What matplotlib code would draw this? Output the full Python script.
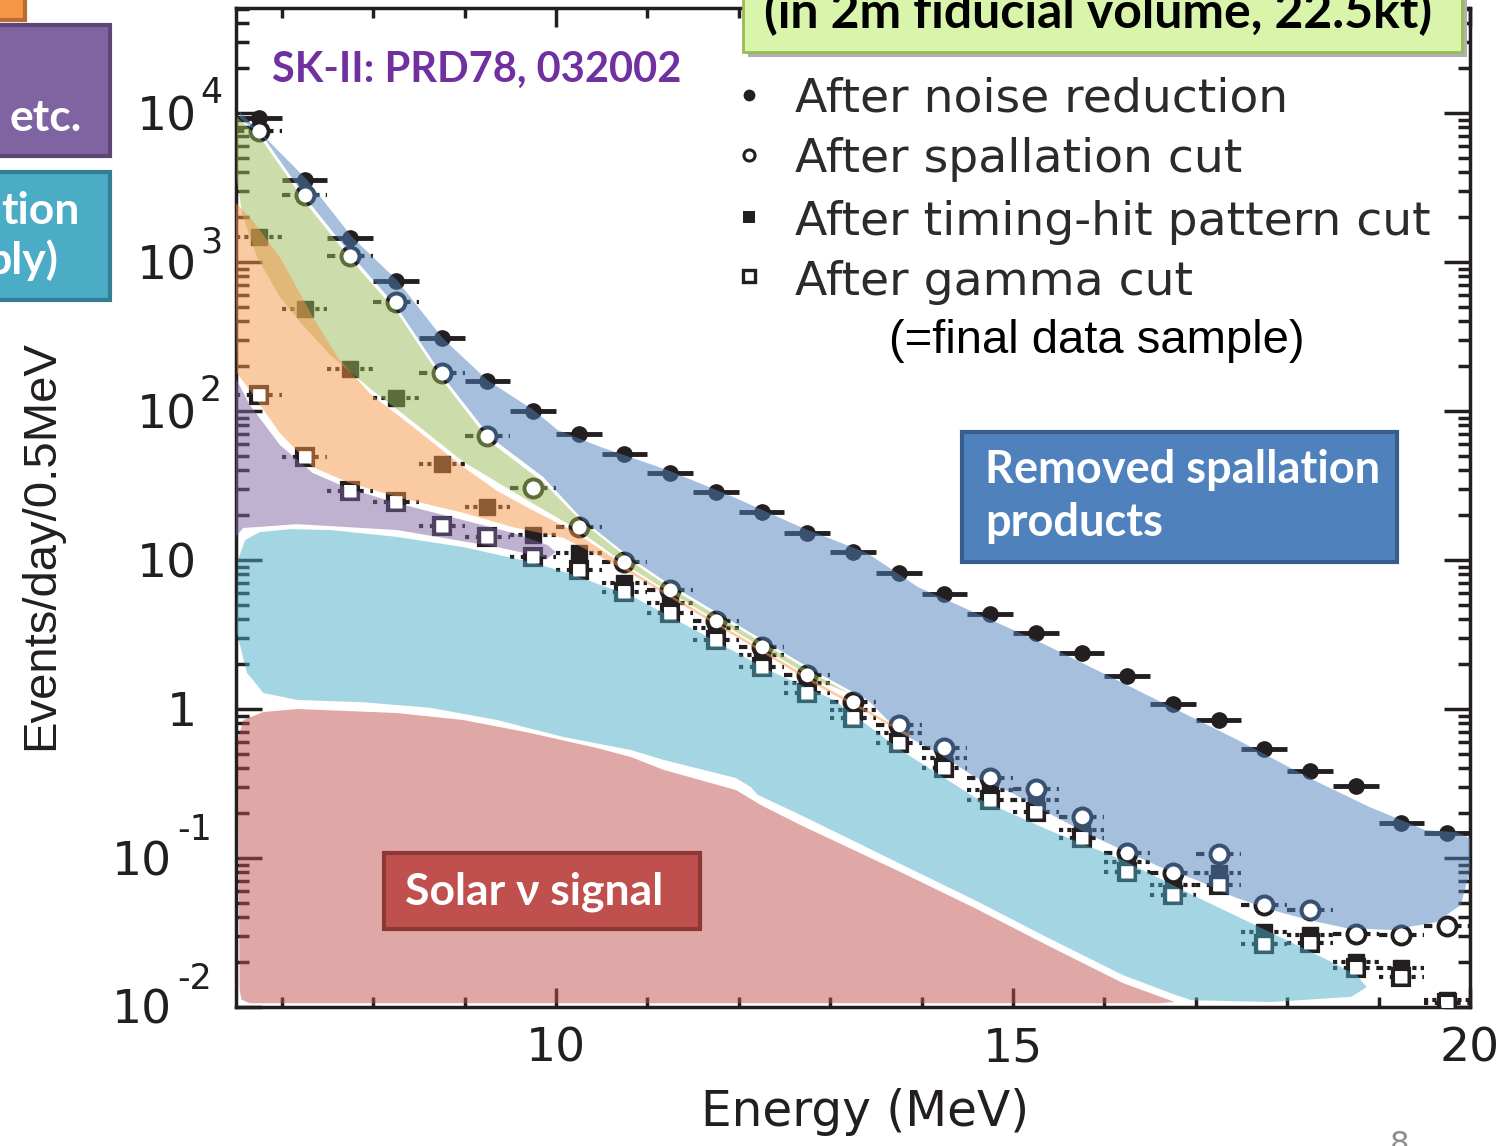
import matplotlib
matplotlib.use("Agg")
import matplotlib.pyplot as plt
import matplotlib.patches as mpatches
import matplotlib.transforms as mtrans
from matplotlib.lines import Line2D
from matplotlib.ticker import MultipleLocator, FixedLocator, LogLocator, NullFormatter

plt.rcParams["font.family"] = ["DejaVu Sans"]

# energy bins (MeV), 0.5 MeV wide
energy = [6.75, 7.25, 7.75, 8.25, 8.75, 9.25, 9.75, 10.25, 10.75, 11.25, 11.75,
          12.25, 12.75, 13.25, 13.75, 14.25, 14.75, 15.25, 15.75, 16.25, 16.75,
          17.25, 17.75, 18.25, 18.75, 19.25, 19.75]
bin_half = 0.25

# events/day/0.5MeV after each reduction step
noise_reduction = [9250, 3550, 1450, 746, 309, 159, 100, 70, 51.5, 38.4, 28.6,
                   21.0, 15.2, 11.3, 8.18, 5.91, 4.34, 3.24, 2.38, 1.66, 1.08,
                   0.843, 0.540, 0.384, 0.304, 0.172, 0.147]
spallation_cut = [7570, 2815, 1097, 539, 180, 68, 30.4, 16.6, 9.7, 6.29, 3.90,
                  2.61, 1.69, 1.11, 0.781, 0.547, 0.344, 0.290, 0.188, 0.108,
                  0.0793, 0.106, 0.0484, 0.0448, 0.0309, 0.0304, 0.0350]
timing_hit_cut = [1470, 484, 191, 122, 44.1, 22.7, 14.7, 11.1, 7.01, 5.15, 3.50,
                  2.30, 1.49, 0.985, 0.690, 0.469, 0.286, 0.245, 0.154, 0.094,
                  0.0659, 0.0793, 0.0319, 0.0304, 0.0200, 0.0183, 0.0111]
gamma_cut = [128, 49.1, 29.0, 24.5, 16.9, 14.3, 10.5, 8.57, 6.10, 4.41, 2.90,
             1.91, 1.28, 0.871, 0.592, 0.402, 0.245, 0.204, 0.136, 0.080,
             0.0565, 0.0659, 0.0265, 0.0268, 0.0183, 0.0159, 0.0106]

# background components sketched over the spectrum: upper edge, then lower edge back
blue_upper_e = [6.54, 7.28, 7.77, 8.26, 8.76, 9.25, 9.75, 10.02, 10.49, 11.22, 11.94,
                12.68, 13.41, 13.96, 15.25, 16.07, 16.64, 17.46, 18.29, 18.90, 19.51,
                19.85, 20.0]
blue_upper_v = [10200, 3550, 1470, 757, 309, 161, 102, 74.5, 57.3, 40.2, 26.5,
                16.6, 11.1, 6.59, 2.90, 1.64, 1.10, 0.619, 0.333, 0.220, 0.154,
                0.149, 0.136]
blue_lower_e = [20.0, 19.9, 19.63, 19.14, 18.64, 18.23, 17.83, 17.42, 17.01, 16.61,
                16.20, 15.80, 15.39, 14.99, 14.58, 14.18, 13.77, 13.41, 12.86, 12.32,
                11.77, 11.22, 10.85, 10.30, 9.86, 9.28, 8.77, 8.26, 7.78, 7.28, 6.80, 6.54]
blue_lower_v = [0.083, 0.0484, 0.0371, 0.0329, 0.0339, 0.0384, 0.0448, 0.0547, 0.0711,
                0.0871, 0.113, 0.147, 0.200, 0.273, 0.350, 0.507, 0.690, 1.15, 1.75,
                2.77, 4.41, 7.01, 10.0, 18.5, 36.1, 67, 169, 499, 1081, 2606, 6900, 9250]

green_upper_e = [6.51, 6.80, 7.28, 7.78, 8.26, 8.77, 9.28, 9.86, 10.13, 10.30, 10.85,
                 11.22, 11.77, 12.32, 12.86, 13.22]
green_upper_v = [9400, 6380, 2415, 1000, 461, 157, 62, 33.3, 22.5, 17.7, 9.55,
                 6.69, 4.21, 2.65, 1.67, 1.27]
green_lower_e = [12.86, 12.32, 11.77, 11.22, 10.85, 10.30, 10.13, 9.72, 8.99, 8.44,
                 7.97, 7.53, 7.23, 6.98, 6.73, 6.57, 6.51]
green_lower_v = [1.55, 2.45, 3.90, 6.2, 8.6, 15.0, 17.5, 24.5, 45.5, 84.3,
                 141, 238, 378, 582, 1081, 2065, 3550]

orange_upper_e = [6.50, 6.65, 6.98, 7.34, 7.61, 7.97, 8.44, 8.99, 9.36, 9.72, 10.16,
                  10.49, 10.85, 11.22, 11.77, 12.32, 12.86, 13.41, 13.88]
orange_upper_v = [2490, 2005, 1081, 428, 230, 130, 78, 42, 29, 22.0, 16.0,
                  11.8, 8.3, 6.0, 3.78, 2.38, 1.50, 0.98, 0.67]
orange_lower_e = [13.88, 13.41, 12.86, 12.32, 11.77, 11.22, 10.85, 10.49, 10.08, 9.53,
                  8.99, 8.26, 7.72, 7.34, 6.98, 6.65, 6.51, 6.50]
orange_lower_v = [0.64, 0.94, 1.43, 2.27, 3.61, 5.73, 7.9, 10.5, 14.1, 16.6,
                  20.7, 26.5, 33.3, 42.1, 71.1, 138, 180, 556]

purple_upper_e = [6.50, 6.65, 6.98, 7.34, 7.72, 8.26, 8.99, 9.53, 9.91, 10.0]
purple_upper_v = [165, 110, 59.2, 38.4, 30.4, 24.1, 18.5, 15.2, 12.6, 11.3]
purple_lower_e = [9.91, 9.36, 8.26, 7.17, 6.58, 6.51, 6.50]
purple_lower_v = [10.3, 12.2, 15.9, 17.4, 16.4, 14.7, 14.0]

cyan_upper_e = [6.52, 6.60, 6.76, 7.09, 7.53, 8.26, 8.99, 9.72, 10.13, 10.85, 11.58,
                12.32, 13.04, 13.77, 14.58, 15.39, 16.20, 17.01, 17.83, 18.44, 18.76, 18.87]
cyan_upper_v = [10.0, 13.6, 15.4, 16.1, 15.9, 14.3, 12.2, 9.70, 8.18, 5.65, 3.24,
                1.83, 1.15, 0.531, 0.256, 0.154, 0.0970, 0.0547, 0.0314, 0.0207,
                0.0164, 0.0136]
cyan_lower_e = [18.70, 17.83, 16.95, 16.77, 16.20, 15.39, 14.58, 13.77, 12.68, 12.21,
                12.13, 11.97, 11.18, 10.82, 10.08, 9.36, 8.62, 7.89, 7.17, 6.80, 6.62, 6.51]
cyan_lower_v = [0.0117, 0.0108, 0.0111, 0.0121, 0.0164, 0.0290, 0.0522, 0.0912, 0.194,
                0.265, 0.30, 0.344, 0.455, 0.531, 0.649, 0.843, 1.02, 1.11, 1.15,
                1.28, 1.75, 3.24]

red_upper_e = [6.54, 6.52, 6.58, 6.80, 7.17, 8.26, 8.99, 9.72, 10.45, 10.82, 11.18,
               11.97, 12.24, 12.68, 13.77, 14.58, 15.39, 16.20, 16.77]
red_upper_v = [0.0130, 0.619, 0.843, 0.955, 1.0, 0.940, 0.843, 0.690, 0.547, 0.476,
               0.390, 0.286, 0.227, 0.166, 0.0805, 0.0462, 0.0257, 0.0145, 0.0108]
red_lower_e = [16.6, 6.65, 6.56]
red_lower_v = [0.0106, 0.0106, 0.0112]

W, H = 1505, 1146
fig = plt.figure(figsize=(W / 100, H / 100), dpi=100)
ax = fig.add_axes([236 / W, 1 - 1007 / H, 1234 / W, 999 / H])


def fxy(px, py):
    # figure-fraction position from a pixel position (origin top left)
    return px / W, 1 - py / H


ink = "#231f20"
narrow = ["Liberation Sans", "DejaVu Sans"]

# data points with horizontal bin-width bars
eb = ax.errorbar(energy, noise_reduction, xerr=bin_half, fmt="o", color=ink,
                 ms=11, elinewidth=3.5, capsize=0, zorder=2)
eb = ax.errorbar(energy, spallation_cut, xerr=bin_half, fmt="o", color=ink,
                 mfc="white", mec=ink, mew=2.8, ms=13, elinewidth=3, capsize=0, zorder=2)
eb[2][0].set_linestyle((0, (2, 1.5)))
eb = ax.errorbar(energy, timing_hit_cut, xerr=bin_half, fmt="s", color=ink,
                 ms=11.5, elinewidth=3, capsize=0, zorder=2)
eb[2][0].set_linestyle((0, (1, 1)))
eb = ax.errorbar(energy, gamma_cut, xerr=bin_half, fmt="s", color=ink,
                 mfc="white", mec=ink, mew=3, ms=12, elinewidth=3, capsize=0, zorder=2)
eb[2][0].set_linestyle((0, (1, 1.6)))

# translucent component regions laid over the points
regions = [
    (blue_upper_e, blue_upper_v, blue_lower_e, blue_lower_v, "#4f81bd"),
    (green_upper_e, green_upper_v, green_lower_e, green_lower_v, "#9bbb59"),
    (orange_upper_e, orange_upper_v, orange_lower_e, orange_lower_v, "#f79646"),
    (purple_upper_e, purple_upper_v, purple_lower_e, purple_lower_v, "#8064a2"),
    (cyan_upper_e, cyan_upper_v, cyan_lower_e, cyan_lower_v, "#4bacc6"),
    (red_upper_e, red_upper_v, red_lower_e, red_lower_v, "#c0504d"),
]
for ue, uv, le, lv, col in regions:
    ax.fill(ue + le, uv + lv, color=col, alpha=0.5, lw=0, zorder=3)

# keep open markers hollow-looking on top of the shading
ax.plot(energy, spallation_cut, "o", ms=9.7, mfc="white", mec="none", zorder=4)
ax.plot(energy, gamma_cut, "s", ms=8.5, mfc="white", mec="none", zorder=4)

ax.set_xlim(6.5, 20)
ax.set_ylim(1e-2, 10 ** 4.705)
ax.set_yscale("log")

ax.xaxis.set_major_locator(FixedLocator([10, 15, 20]))
ax.xaxis.set_minor_locator(MultipleLocator(1))
ax.yaxis.set_major_locator(LogLocator(base=10, numticks=20))
ax.yaxis.set_minor_locator(LogLocator(base=10, subs=range(2, 10), numticks=20))
ax.yaxis.set_major_formatter(NullFormatter())
ax.yaxis.set_minor_formatter(NullFormatter())

ax.tick_params(which="both", direction="in", top=True, right=True,
               width=2.5, color=ink)
ax.tick_params(axis="x", which="major", length=14, pad=14, labelsize=34,
               labelcolor=ink)
ax.tick_params(axis="x", which="minor", length=7)
ax.tick_params(axis="y", which="major", length=19)
ax.tick_params(axis="y", which="minor", length=9)
for sp in ax.spines.values():
    sp.set_linewidth(2.5)
    sp.set_color(ink)

# y tick labels written as 10 with a raised exponent
ytick_vals = [1e-2, 1e-1, 1, 10, 1e2, 1e3, 1e4]
ytick_base = ["10", "10", "1", "10", "10", "10", "10"]
ytick_exp = ["-2", "-1", "", "", "2", "3", "4"]
blend = mtrans.blended_transform_factory(ax.transAxes, ax.transData)
for val, base, ex in zip(ytick_vals, ytick_base, ytick_exp):
    neg = ex.startswith("-")
    bx = -0.64 if neg else -0.39
    t = blend + mtrans.ScaledTranslation(bx, -0.17, fig.dpi_scale_trans)
    ax.text(0, val, base, transform=t, ha="right", va="baseline",
            fontsize=34, color=ink, clip_on=False)
    if ex:
        ex_x = -0.59 if neg else -0.36
        ex_y = 0.18 if neg else 0.10
        t = blend + mtrans.ScaledTranslation(ex_x, ex_y, fig.dpi_scale_trans)
        ax.text(0, val, ex, transform=t, ha="left", va="baseline",
                fontsize=25, color=ink, clip_on=False)

ax.set_xlabel("Energy (MeV)", fontsize=35, color=ink)
ax.xaxis.set_label_coords(0.5097, -0.081)
ax.set_ylabel("Events/day/0.5MeV", fontsize=34, color=ink, family=narrow)
ax.yaxis.set_label_coords(-0.140, 0.4625)

# legend for the reduction steps
legend_rows = [
    ("o", ink, 8.5, 0, "After noise reduction", 95, 112),
    ("o", "white", 8, 2.2, "After spallation cut", 155, 172),
    ("s", ink, 8.5, 0, "After timing-hit pattern cut", 217, 235),
    ("s", "white", 8.5, 2.4, "After gamma cut", 276, 295),
]
for mk, face, size, mew, label, my, ty in legend_rows:
    fig.add_artist(Line2D([fxy(749, my)[0]], [fxy(749, my)[1]], marker=mk,
                          ms=size, mfc=face, mec=ink, mew=mew, ls="none",
                          transform=fig.transFigure))
    fig.text(*fxy(795, ty), label, fontsize=34, color="#2b2b2b", va="baseline")
fig.text(*fxy(889, 353), "(=final data sample)", fontsize=34, color="black",
         va="baseline", family=narrow)


def slide_box(x0, y0, x1, y1, face, edge, lw=3, z=5):
    box = mpatches.Rectangle(fxy(x0, y1), (x1 - x0) / W, (y1 - y0) / H,
                             transform=fig.transFigure, facecolor=face,
                             edgecolor=edge, lw=lw, zorder=z)
    fig.add_artist(box)


bold = dict(family=["Lato", "DejaVu Sans"], weight="bold")

fig.text(*fxy(272, 82), "SK-II: PRD78, 032002", color="#7030a0", fontsize=30,
         va="baseline", **bold)

# fiducial volume banner (runs off the top edge)
slide_box(748, -14, 1467, 57, "#b0b0b0", "none", lw=0, z=5)
slide_box(743, -20, 1462, 52, "#d9f5ab", "#9bbb59", lw=2, z=6)
fig.text(*fxy(1098, 28), "(in 2m fiducial volume, 22.5kt)", fontsize=36,
         color="black", ha="center", va="baseline", zorder=7, **bold)

slide_box(962, 432, 1397, 562, "#4f81bd", "#385d8a")
fig.text(*fxy(985, 483), "Removed spallation", fontsize=32.5, color="white",
         va="baseline", zorder=7, **bold)
fig.text(*fxy(985, 536), "products", fontsize=32.5, color="white",
         va="baseline", zorder=7, **bold)

slide_box(384, 853, 700, 929, "#c0504d", "#8c3836")
fig.text(*fxy(405, 905), "Solar \u03bd signal", fontsize=32, color="white",
         va="baseline", zorder=7, **bold)

# neighbouring slide labels, cut off at the left edge
slide_box(-10, -10, 25, 20, "#f79646", "#b66d31")
slide_box(-10, 25, 110, 156, "#8064a2", "#5c4776")
fig.text(*fxy(10, 131), "etc.", fontsize=32, color="white", va="baseline",
         zorder=7, **bold)
slide_box(-10, 172, 110, 300, "#4bacc6", "#357d91")
fig.text(*fxy(80, 224), "tion", fontsize=32, color="white", ha="right",
         va="baseline", zorder=7, **bold)
fig.text(*fxy(58, 274), "ply)", fontsize=32, color="white", ha="right",
         va="baseline", zorder=7, **bold)
fig.text(*fxy(1390, 1130), "8", fontsize=22, color="#8c8c8c", va="top")

fig.savefig("out.png", dpi=100)
